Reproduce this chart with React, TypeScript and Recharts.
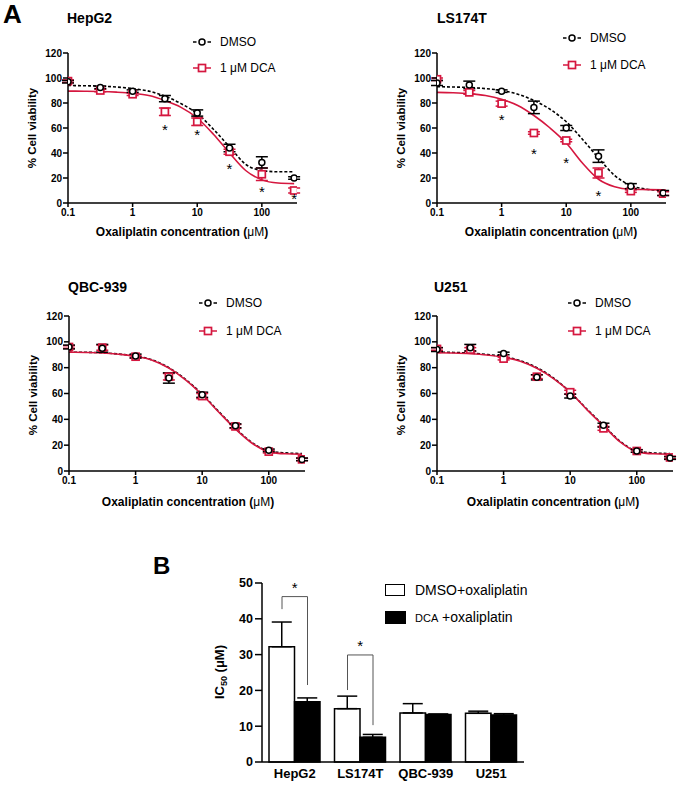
import React from 'react';
import {
  ComposedChart,
  Line,
  Scatter,
  Bar,
  XAxis,
  YAxis,
  ErrorBar,
  ReferenceLine,
  ReferenceDot,
} from 'recharts';

const FONT = '"Liberation Sans", Arial, Helvetica, sans-serif';
const RED = '#d5173f';

// oxaliplatin concentrations (µM) of the measured points
const conc = [0.1, 0.316, 1, 3.16, 10, 31.6, 100, 316];
const fitConc = [0.1, 0.178, 0.316, 0.562, 1, 1.78, 3.16, 5.62, 10, 17.8, 31.6, 56.2, 100, 178, 316];

// HepG2
const hepDmso = [97, 92.5, 89.5, 83.5, 72, 44, 32.5, 20];
const hepDmsoErr = [1, 1, 1, 2.5, 2.5, 3, 4.5, 1];
const hepDca = [97.5, 90, 87, 73, 65, 41, 23, 10];
const hepDcaErr = [1, 1, 1, 3, 3, 2, 5, 2];
const hepDmsoFit = [94, 93.8, 93.5, 92.8, 91.5, 89.5, 85.5, 79.5, 71.5, 59, 45, 31, 26, 25, 25];
const hepDcaFit = [89.5, 89.4, 89.2, 88.7, 87.8, 86, 82, 76.5, 68, 55, 40, 26, 18.5, 16, 15.5];
const hepStarX = [3.16, 10, 31.6, 100, 316];
const hepStarY = [60, 56, 29, 10.5, 4.5];

// LS174T
const lsDmso = [96, 94.5, 89.5, 76.5, 60, 37.5, 13.5, 8];
const lsDmsoErr = [2, 3, 1, 5, 2, 5, 2, 2];
const lsDca = [99, 88.5, 79.5, 56, 50, 24, 9.5, 7.5];
const lsDcaErr = [1, 1.5, 2, 1, 1, 4, 1, 1.5];
const lsDmsoFit = [93, 92.8, 92.4, 91.5, 90, 87, 82, 75, 65, 51, 36, 22, 14, 11, 10];
const lsDcaFit = [88.5, 88.2, 87.5, 86, 83, 78, 70, 60, 48, 32, 19, 13, 11, 10.7, 10.5];
const lsStarX = [1, 3.16, 10, 31.6];
const lsStarY = [68, 41, 34, 7.5];

// QBC-939
const qbcDmso = [96, 95, 89, 72, 59, 35, 16, 9];
const qbcDmsoErr = [1.5, 3, 1.5, 4, 2, 1.5, 1, 1];
const qbcDca = [96, 95.5, 88.5, 73, 58, 34.5, 15, 9];
const qbcDcaErr = [1, 2, 1, 2.5, 2, 1.5, 1, 1];
const qbcDmsoFit = [92, 91.9, 91.5, 90.5, 89, 86, 80, 71, 59.5, 46, 33, 22, 15.5, 14, 13.5];
const qbcDcaFit = [92, 91.8, 91.4, 90.4, 88.8, 85.8, 79.7, 70.6, 59, 45.5, 32.5, 21.5, 15, 13.3, 13];

// U251
const uDmso = [94, 95.5, 91, 72.5, 58, 35.5, 15.5, 10];
const uDmsoErr = [1.5, 2.5, 1, 2, 1.5, 1.5, 1, 1];
const uDca = [94.5, 94, 87, 73, 61, 33, 15.5, 10.5];
const uDcaErr = [1, 1.5, 1, 1.5, 1.5, 1.5, 1, 1];
const uDmsoFit = [92, 91.8, 91.3, 90.2, 88.5, 85.5, 80, 72, 61, 48, 35.5, 23, 15.5, 14, 13.5];
const uDcaFit = [91.5, 91.3, 90.8, 89.8, 88, 85, 79.5, 71.5, 61, 47.5, 35, 22.5, 15, 13.3, 13];

const xTicks = [0.1, 1, 10, 100];
const yTicks = [0, 20, 40, 60, 80, 100, 120];

// panel B
const cellLines = ['HepG2', 'LS174T', 'QBC-939', 'U251'];
const dmsoIc50 = [32.2, 14.9, 13.7, 13.6];
const dmsoIc50Err = [6.9, 3.5, 2.6, 0.6];
const dcaIc50 = [16.8, 6.9, 13.3, 13.1];
const dcaIc50Err = [1.1, 0.8, 0.1, 0.4];
const icTicks = [0, 10, 20, 30, 40, 50];
// significance brackets: category index, left end, top, right end (µM)
const brackets = [
  { cat: 0, left: 42.7, top: 46.2, right: 21.5 },
  { cat: 1, left: 20.1, top: 29.9, right: 10.3 },
];

const pts = (xs: number[], ys: number[], es?: number[]) =>
  xs.map((x, i) => ({ x, y: ys[i], e: es ? es[i] : 0 }));

const CircleDot = (p: any) => (
  <circle cx={p.cx} cy={p.cy} r={3} fill="#fff" stroke="#000" strokeWidth={1.5} />
);
const SquareDot = (p: any) => (
  <rect x={p.cx - 3.5} y={p.cy - 3.5} width={7} height={7} fill="#fff" stroke={RED} strokeWidth={1.7} />
);
const StarDot = (p: any) => (
  <text x={p.cx} y={p.cy + 7} textAnchor="middle" fontSize={15} fill="#000" stroke="none" fontFamily={FONT}>
    *
  </text>
);

const Txt = ({ x, y, size = 12, bold = false, anchor = 'left', children, rotate = false }: any) => (
  <div
    style={{
      position: 'absolute',
      left: x,
      top: y,
      transform: `translate(${anchor === 'center' ? '-50%' : '0'}, -50%)${rotate ? ' rotate(-90deg)' : ''}`,
      transformOrigin: rotate ? 'center center' : undefined,
      fontFamily: FONT,
      fontSize: size,
      fontWeight: bold ? 700 : 400,
      whiteSpace: 'nowrap',
      lineHeight: 1,
      color: '#000',
    }}
  >
    {children}
  </div>
);

const DmsoKey = () => (
  <svg width={18} height={10} style={{ display: 'block' }}>
    <line x1={0} y1={5} x2={3.5} y2={5} stroke="#000" strokeWidth={1.5} />
    <line x1={14.5} y1={5} x2={18} y2={5} stroke="#000" strokeWidth={1.5} />
    <circle cx={9} cy={5} r={3} fill="#fff" stroke="#000" strokeWidth={1.5} />
  </svg>
);
const DcaKey = () => (
  <svg width={18} height={10} style={{ display: 'block' }}>
    <line x1={0} y1={5} x2={18} y2={5} stroke={RED} strokeWidth={1.5} />
    <rect x={5.5} y={1.5} width={7} height={7} fill="#fff" stroke={RED} strokeWidth={1.7} />
  </svg>
);

const Key = ({ x, y, children }: any) => (
  <div style={{ position: 'absolute', left: x, top: y - 5 }}>{children}</div>
);

const axisTick = { fill: '#000', fontSize: 10, fontWeight: 700, fontFamily: FONT };

function CurvePanel(props: any) {
  const { px, py, w, h, dmso, dmsoErr, dca, dcaErr, dmsoFit, dcaFit, starX, starY } = props;
  return (
    <div style={{ position: 'absolute', left: px - 50, top: py - 10 }}>
      <ComposedChart width={w + 60} height={h + 40} margin={{ top: 10, right: 10, left: 0, bottom: 0 }}>
        <XAxis
          type="number"
          dataKey="x"
          scale="log"
          domain={[0.1, 350]}
          allowDataOverflow
          ticks={xTicks}
          tickFormatter={(v: number) => String(v)}
          height={30}
          stroke="#000"
          strokeWidth={1.5}
          tickSize={4}
          tickMargin={2}
          tick={axisTick}
          interval={0}
        />
        <YAxis
          type="number"
          dataKey="y"
          domain={[0, 120]}
          ticks={yTicks}
          width={50}
          stroke="#000"
          strokeWidth={1.5}
          tickSize={5}
          tickMargin={1}
          tick={axisTick}
          interval={0}
        />
        <Line
          data={pts(fitConc, dmsoFit)}
          dataKey="y"
          type="monotone"
          stroke="#000"
          strokeWidth={1.6}
          strokeDasharray="3 2"
          dot={false}
          isAnimationActive={false}
        />
        <Line
          data={pts(fitConc, dcaFit)}
          dataKey="y"
          type="monotone"
          stroke={RED}
          strokeWidth={1.6}
          dot={false}
          isAnimationActive={false}
        />
        <Scatter data={pts(conc, dca, dcaErr)} shape={SquareDot} isAnimationActive={false}>
          <ErrorBar dataKey="e" direction="y" width={6} stroke={RED} strokeWidth={1.5} />
        </Scatter>
        <Scatter data={pts(conc, dmso, dmsoErr)} shape={CircleDot} isAnimationActive={false}>
          <ErrorBar dataKey="e" direction="y" width={6} stroke="#000" strokeWidth={1.5} />
        </Scatter>
        {starX && <Scatter data={pts(starX, starY)} shape={StarDot} isAnimationActive={false} />}
      </ComposedChart>
    </div>
  );
}

const BAR_LEFT = 262;
const BAR_W = 262;
const BAR_TOP = 583;
const BAR_H = 179;
const BAR_SIZE = 25.5;

function IcChart() {
  const data = cellLines.map((name, i) => ({
    name,
    pos: i + 0.5,
    dmso: dmsoIc50[i],
    dmsoE: [0, dmsoIc50Err[i]],
    dca: dcaIc50[i],
    dcaE: [0, dcaIc50Err[i]],
  }));
  const half = BAR_SIZE / 2 / (BAR_W / cellLines.length);
  return (
    <div style={{ position: 'absolute', left: BAR_LEFT - 50, top: BAR_TOP - 10 }}>
      <ComposedChart
        width={BAR_W + 60}
        height={BAR_H + 40}
        data={data}
        margin={{ top: 10, right: 10, left: 0, bottom: 0 }}
        barGap={0}
      >
        <XAxis
          xAxisId="c"
          dataKey="name"
          height={30}
          stroke="#000"
          strokeWidth={1.5}
          tickLine={false}
          tickSize={5}
          tickMargin={2}
          tick={{ fill: '#000', fontSize: 13, fontWeight: 700, fontFamily: FONT }}
          interval={0}
        />
        <XAxis xAxisId="n" dataKey="pos" type="number" domain={[0, 4]} ticks={[0, 1, 2, 3, 4]} hide allowDataOverflow />
        <YAxis
          domain={[0, 50]}
          ticks={icTicks}
          width={50}
          stroke="#000"
          strokeWidth={1.5}
          tickSize={7}
          tickMargin={2}
          tick={{ fill: '#000', fontSize: 12.5, fontWeight: 700, fontFamily: FONT }}
          interval={0}
        />
        <Bar xAxisId="c" dataKey="dmso" fill="#fff" stroke="#000" strokeWidth={1.5} barSize={BAR_SIZE} isAnimationActive={false}>
          <ErrorBar dataKey="dmsoE" direction="y" width={10} stroke="#000" strokeWidth={1.5} />
        </Bar>
        <Bar xAxisId="c" dataKey="dca" fill="#000" stroke="#000" strokeWidth={1.5} barSize={BAR_SIZE} isAnimationActive={false}>
          <ErrorBar dataKey="dcaE" direction="y" width={10} stroke="#000" strokeWidth={1.5} />
        </Bar>
        {brackets.map((b) => {
          const xl = b.cat + 0.5 - half;
          const xr = b.cat + 0.5 + half;
          return (
            <React.Fragment key={b.cat}>
              <ReferenceLine xAxisId="n" segment={[{ x: xl, y: b.left }, { x: xl, y: b.top }]} stroke="#555" strokeWidth={1} />
              <ReferenceLine xAxisId="n" segment={[{ x: xl, y: b.top }, { x: xr, y: b.top }]} stroke="#555" strokeWidth={1} />
              <ReferenceLine xAxisId="n" segment={[{ x: xr, y: b.top }, { x: xr, y: b.right }]} stroke="#555" strokeWidth={1} />
              <ReferenceDot xAxisId="n" x={b.cat + 0.5} y={b.top + 3} r={0} shape={StarDot} />
            </React.Fragment>
          );
        })}
      </ComposedChart>
    </div>
  );
}

const XTitle = ({ x, y }: any) => (
  <Txt x={x} y={y} size={12} bold anchor="center">
    Oxaliplatin concentration (<span style={{ fontWeight: 400 }}>μM</span>)
  </Txt>
);

const Legend = ({ x, y1, y2 }: any) => (
  <>
    <Key x={x} y={y1}>
      <DmsoKey />
    </Key>
    <Txt x={x + 27} y={y1} size={12}>DMSO</Txt>
    <Key x={x} y={y2}>
      <DcaKey />
    </Key>
    <Txt x={x + 27} y={y2} size={12}>1 μM DCA</Txt>
  </>
);

export default function App() {
  return (
    <div style={{ position: 'absolute', left: 0, top: 0, width: 678, height: 785, background: '#fff', overflow: 'hidden' }}>
      <Txt x={3} y={14} size={26} bold>A</Txt>

      <Txt x={67} y={18} size={14} bold>HepG2</Txt>
      <Legend x={193} y1={42} y2={68} />
      <Txt x={33} y={128} size={11.5} bold anchor="center" rotate>% Cell viability</Txt>
      <CurvePanel px={68} py={53} w={229} h={150}
        dmso={hepDmso} dmsoErr={hepDmsoErr} dca={hepDca} dcaErr={hepDcaErr}
        dmsoFit={hepDmsoFit} dcaFit={hepDcaFit} starX={hepStarX} starY={hepStarY} />
      <XTitle x={182} y={232} />

      <Txt x={437} y={18} size={14} bold>LS174T</Txt>
      <Legend x={563} y1={38} y2={65} />
      <Txt x={402} y={128} size={11.5} bold anchor="center" rotate>% Cell viability</Txt>
      <CurvePanel px={437} py={53} w={229} h={150}
        dmso={lsDmso} dmsoErr={lsDmsoErr} dca={lsDca} dcaErr={lsDcaErr}
        dmsoFit={lsDmsoFit} dcaFit={lsDcaFit} starX={lsStarX} starY={lsStarY} />
      <XTitle x={551} y={232} />

      <Txt x={68} y={287} size={14} bold>QBC-939</Txt>
      <Legend x={199} y1={303} y2={331} />
      <Txt x={34} y={395} size={11.5} bold anchor="center" rotate>% Cell viability</Txt>
      <CurvePanel px={69} py={316} w={236} h={155}
        dmso={qbcDmso} dmsoErr={qbcDmsoErr} dca={qbcDca} dcaErr={qbcDcaErr}
        dmsoFit={qbcDmsoFit} dcaFit={qbcDcaFit} />
      <XTitle x={188} y={502} />

      <Txt x={434} y={287} size={14} bold>U251</Txt>
      <Legend x={568} y1={303} y2={331} />
      <Txt x={402} y={395} size={11.5} bold anchor="center" rotate>% Cell viability</Txt>
      <CurvePanel px={437} py={316} w={236} h={155}
        dmso={uDmso} dmsoErr={uDmsoErr} dca={uDca} dcaErr={uDcaErr}
        dmsoFit={uDmsoFit} dcaFit={uDcaFit} />
      <XTitle x={553} y={502} />

      <Txt x={153} y={566} size={24} bold>B</Txt>
      <Txt x={221} y={672} size={13} bold anchor="center" rotate>
        IC<sub style={{ fontSize: 9 }}>50</sub> (μM)
      </Txt>
      <IcChart />
      <div style={{ position: 'absolute', left: 385, top: 584, width: 18, height: 10, border: '1.5px solid #000', background: '#fff' }} />
      <Txt x={415} y={590} size={14}>DMSO+oxaliplatin</Txt>
      <div style={{ position: 'absolute', left: 385, top: 611, width: 21, height: 13, background: '#000' }} />
      <Txt x={415} y={617} size={14}>
        <span style={{ fontSize: 11 }}>DCA</span> +oxaliplatin
      </Txt>
    </div>
  );
}
